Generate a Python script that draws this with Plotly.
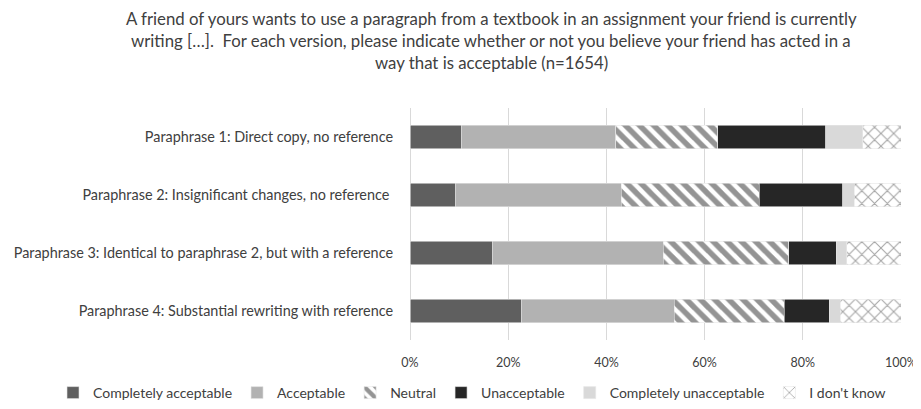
import plotly.graph_objects as go

categories = [
    "Paraphrase 1: Direct copy, no reference",
    "Paraphrase 2: Insignificant changes, no reference ",
    "Paraphrase 3: Identical to paraphrase 2, but with a reference",
    "Paraphrase 4: Substantial rewriting with reference",
]
series_names = ["Completely acceptable", "Acceptable", "Neutral", "Unacceptable",
                "Completely unacceptable", "I don't know"]
completely_acceptable = [10.4, 9.3, 16.8, 22.7]
acceptable = [31.5, 33.7, 34.8, 31.1]
neutral = [20.8, 28.1, 25.5, 22.4]
unacceptable = [22.0, 17.0, 9.7, 9.2]
completely_unacceptable = [7.5, 2.4, 2.1, 2.2]
dont_know = [7.8, 9.5, 11.1, 12.4]
x_ticks = [0, 20, 40, 60, 80, 100]
x_tick_labels = ["0%", "20%", "40%", "60%", "80%", "100%"]
title_lines = [
    "A friend of yours wants to use a paragraph from a textbook in an assignment your friend is currently",
    "writing […].  For each version, please indicate whether or not you believe your friend has acted in a",
    "way that is acceptable (n=1654)",
]

values = [completely_acceptable, acceptable, neutral, unacceptable,
          completely_unacceptable, dont_know]
styles = [
    dict(color="#5f5f5f"),
    dict(color="#b2b2b2"),
    dict(color="white", pattern=dict(shape="\\", fgcolor="#2a2a2a", bgcolor="white", size=10, solidity=0.55, fillmode="overlay")),
    dict(color="#262626"),
    dict(color="#d9d9d9"),
    dict(color="white", pattern=dict(shape="x", fgcolor="#4a4a4a", bgcolor="white", size=9, solidity=0.22, fillmode="overlay")),
]

# page body has an 8px margin, so the figure is laid out 8px up/left of screen coords
OFF = 8
W, H = 921 - OFF, 409 - OFF
px_l, px_r, px_t, px_b = 410 - OFF, 901 - OFF, 108 - OFF, 340 - OFF

fig = go.Figure()
for name, vals, st in zip(series_names, values, styles):
    marker = dict(color=st["color"], line=dict(color="#e6e6e6", width=0.6))
    if "pattern" in st:
        marker["pattern"] = st["pattern"]
    fig.add_trace(go.Bar(y=categories, x=vals, name=name, orientation="h", marker=marker))

title_y_px = [18, 40, 62]
for line, ypx in zip(title_lines, title_y_px):
    fig.add_annotation(text=line, xref="paper", yref="paper",
                       x=(491 - OFF) / W, y=1 - (ypx - OFF) / H,
                       xanchor="center", yanchor="middle", showarrow=False,
                       font=dict(family="Lato", size=16.8, color="#404040"))

fig.update_layout(
    barmode="stack",
    bargap=0.6,
    width=W, height=H,
    margin=dict(l=0, r=0, t=0, b=0, pad=0),
    paper_bgcolor="white", plot_bgcolor="white",
    font=dict(family="Lato", size=14.4, color="#404040"),
    showlegend=True,
    legend=dict(orientation="h", x=(472 - OFF) / W, xanchor="center",
                y=0, yanchor="bottom", borderwidth=0,
                font=dict(size=14), traceorder="normal"),
    xaxis=dict(domain=[px_l / W, px_r / W], range=[0, 100], tickvals=x_ticks,
               ticktext=x_tick_labels, showgrid=True, gridcolor="#d9d9d9", gridwidth=1,
               zeroline=True, zerolinecolor="#d9d9d9", zerolinewidth=1, ticks="",
               showline=False, automargin=False, ticklabelstandoff=13,
               ticklabeloverflow="allow", tickfont=dict(size=12.5)),
    yaxis=dict(domain=[1 - px_b / H, 1 - px_t / H], autorange="reversed", showgrid=False,
               ticks="", ticklabelstandoff=16, showline=False, automargin=False),
)
fig.write_html("out.html")
